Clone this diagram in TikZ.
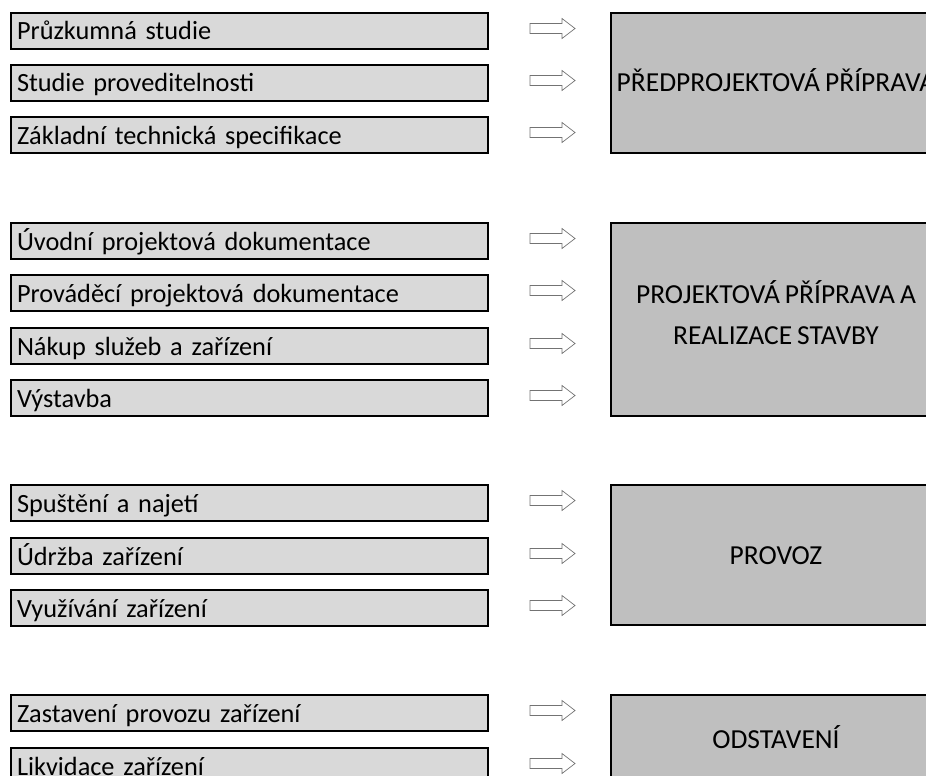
\documentclass[tikz,border=0pt]{standalone}
\usepackage{fontspec}
\setmainfont[WordSpace=0.8]{Carlito}
\usetikzlibrary{calc}
\begin{document}
\begin{tikzpicture}[x=1pt,y=-1pt,
  stepbox/.style={draw=black, line width=2pt, fill=black!15, anchor=north west,
    minimum width=477pt, minimum height=36pt, text width=465pt, inner xsep=5pt,
    inner ysep=0pt, align=left, text height=22pt, text depth=4pt,
    font=\fontsize{26.3}{30}\selectfont},
  phasebox/.style={draw=black, line width=2pt, fill=black!25, anchor=north west,
    minimum width=330pt, align=center, inner sep=0pt,
    text height=22pt, text depth=4pt,
    font=\fontsize{27.5}{41}\selectfont},
  blockarrow/.pic={\draw[draw=black!55, line width=0.7pt, fill=white]
    (0,-5) -- (32,-5) -- (32,-10) -- (45,0) -- (32,10) -- (32,5) -- (0,5) -- cycle;}
]
\useasboundingbox (0,0) rectangle (926,776);

% activities, grouped by phase
\node[stepbox] (a1) at (10,12)  {Průzkumná studie};
\node[stepbox] (a2) at (10,64)  {Studie proveditelnosti};
\node[stepbox] (a3) at (10,116) {Základní technická specifikace};

\node[stepbox] (b1) at (10,222) {Úvodní projektová dokumentace};
\node[stepbox] (b2) at (10,274) {Prováděcí projektová dokumentace};
\node[stepbox] (b3) at (10,327) {Nákup služeb a zařízení};
\node[stepbox] (b4) at (10,379) {Výstavba};

\node[stepbox] (c1) at (10,484) {Spuštění a najetí};
\node[stepbox] (c2) at (10,537) {Údržba zařízení};
\node[stepbox] (c3) at (10,589) {Využívání zařízení};

\node[stepbox] (d1) at (10,694) {Zastavení provozu zařízení};
\node[stepbox] (d2) at (10,747) {Likvidace zařízení};

% phases (the boxes run on past the right edge)
\node[phasebox, minimum height=140pt] (p1) at (610,12)  {PŘEDPROJEKTOVÁ PŘÍPRAVA};
\node[phasebox, minimum height=193pt, text height=63pt, text depth=14pt] (p2) at (610,222)
  {PROJEKTOVÁ PŘÍPRAVA A\\REALIZACE STAVBY};
\node[phasebox, minimum height=140pt] (p3) at (610,484) {PROVOZ};
\node[phasebox, minimum height=88pt]  (p4) at (610,694) {ODSTAVENÍ};

% block arrows from each activity towards its phase
\foreach \n in {a1,a2,a3,b1,b2,b3,b4,c1,c2,c3,d1,d2}
  \pic at ($(\n.east)+(41,-2.5)$) {blockarrow};
\end{tikzpicture}
\end{document}
